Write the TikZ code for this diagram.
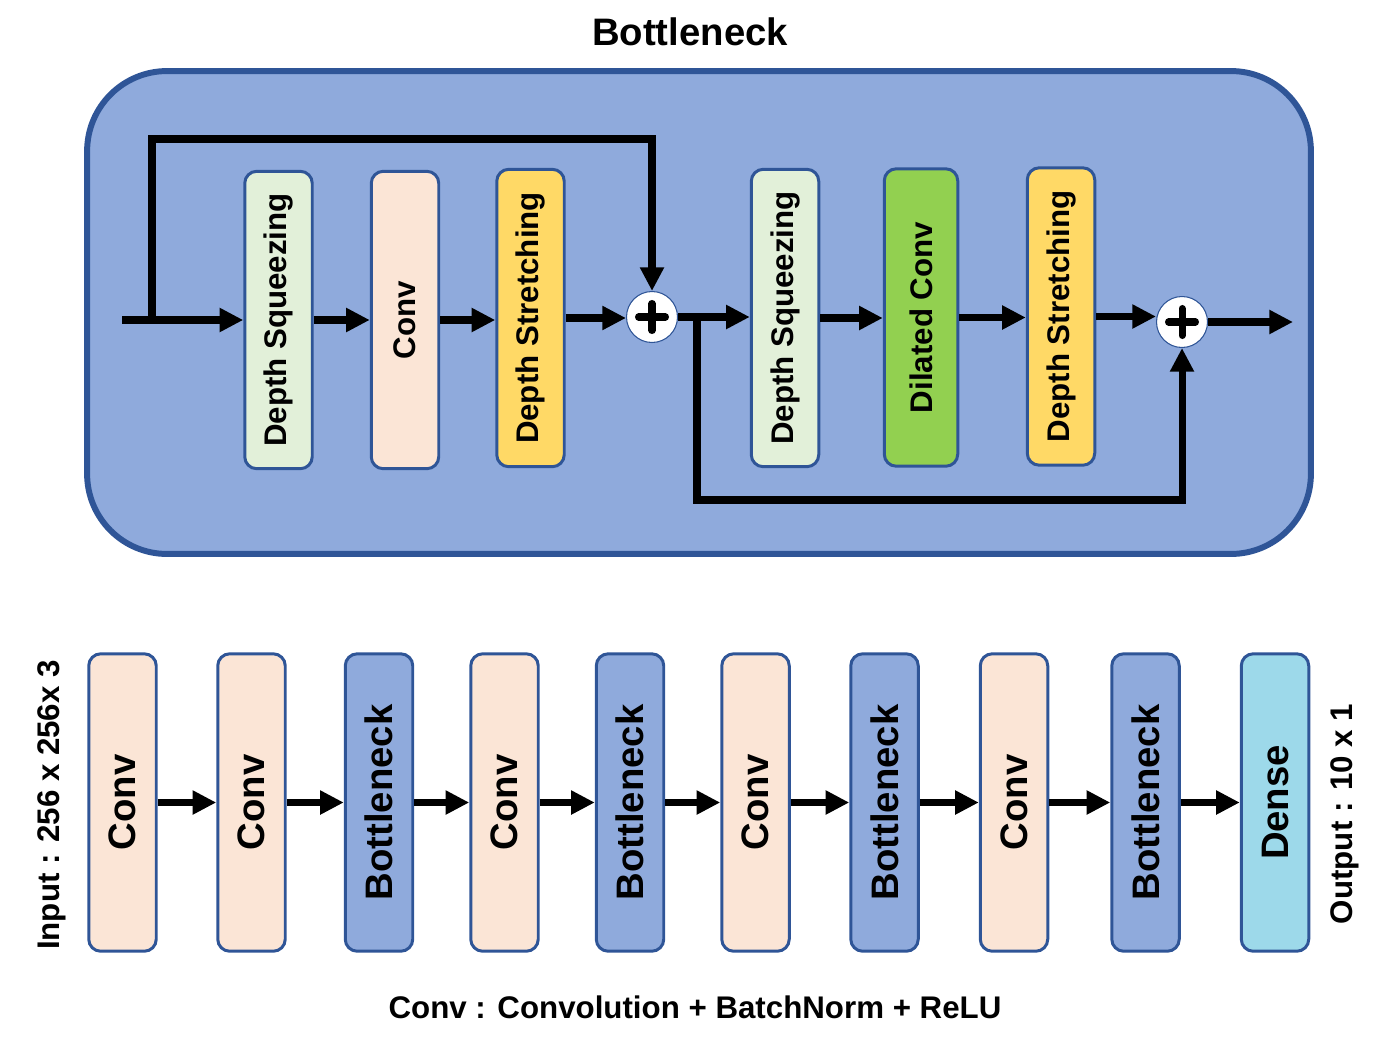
\documentclass[tikz,border=0pt]{standalone}
\usepackage{fontspec}
\setmainfont{Liberation Sans}
\usepackage{graphicx}
\usetikzlibrary{arrows.meta,calc}
\definecolor{bnfill}{HTML}{8FAADC}
\definecolor{bnline}{HTML}{2F5597}
\definecolor{sqz}{HTML}{E2F0D9}
\definecolor{convc}{HTML}{FBE5D6}
\definecolor{strc}{HTML}{FFD966}
\definecolor{dilc}{HTML}{92D050}
\definecolor{densec}{HTML}{9DD9EA}
\begin{document}
\begin{tikzpicture}[x=0.02cm,y=-0.02cm,
  blk/.style={draw=bnline, line width=1.7pt, rounded corners=0.24cm, minimum width=1.35cm, minimum height=5.95cm, inner sep=0pt, font=\bfseries\fontsize{17.8}{21}\selectfont},
  bblk/.style={blk, font=\bfseries\fontsize{21.8}{26}\selectfont},
  flow/.style={line width=4pt, -{Triangle[length=13.5pt,width=13pt]}},
  sumnode/.style={circle, draw=bnline, line width=0.6pt, fill=white, minimum size=1.02cm, inner sep=0pt},
  plusbar/.style={line width=4pt, line cap=round},
  lbl/.style={font=\bfseries\fontsize{17.8}{21}\selectfont, inner sep=0pt}]
\useasboundingbox (0,0) rectangle (1395,1041);

% title
\node[font=\bfseries\fontsize{21.8}{26}\selectfont, inner sep=0pt] (title) at (690,32) {Bottleneck};

% bottleneck container
\node[draw=bnline, line width=3.4pt, fill=bnfill, rounded corners=1.6cm,
      minimum width=24.48cm, minimum height=9.66cm, inner sep=0pt] (frame) at (699,312.5) {};

% top row blocks
\node[blk, fill=sqz]   (d1) at (278.5,320) {\rotatebox{90}{Depth Squeezing}};
\node[blk, fill=convc] (c1) at (405,320)   {\rotatebox{90}{Conv}};
\node[blk, fill=strc]  (s1) at (530.5,318) {\rotatebox{90}{Depth Stretching}};
\node[blk, fill=sqz]   (d2) at (785,318)   {\rotatebox{90}{Depth Squeezing}};
\node[blk, fill=dilc, minimum width=1.47cm] (dc) at (921,317.5) {\rotatebox{90}{Dilated Conv}};
\node[blk, fill=strc]  (s2) at (1061,316.5) {\rotatebox{90}{Depth Stretching}};

% sum nodes
\node[sumnode] (p1) at (652,317) {};
\node[sumnode] (p2) at (1182,322) {};
\foreach \p in {p1,p2}{
  \draw[plusbar] ([xshift=-0.27cm]\p.center) -- ([xshift=0.27cm]\p.center);
  \draw[plusbar] ([yshift=-0.27cm]\p.center) -- ([yshift=0.27cm]\p.center);
}

% top connectors
\coordinate (in) at (122,320);
\coordinate (br1) at (152,320);
\coordinate (br2) at (697,317);
\coordinate (out) at (1293,322);
\draw[flow] (in) -- (d1.west);
\draw[flow] (br1) -- ++(0,-181) -| (p1.north);
\draw[flow] (d1.east) -- (c1.west);
\draw[flow] (c1.east) -- (c1.east -| s1.west);
\draw[flow] (s1.east) -- (s1.east -| p1.west);
\draw[flow] (p1.east) -- (p1.east -| d2.west);
\draw[flow] (br2) -- ++(0,183) -| (p2.south);
\draw[flow] (d2.east) -- (d2.east -| dc.west);
\draw[flow] (dc.east) -- (dc.east -| s2.west);
\draw[flow] (s2.east) -- (s2.east -| p2.west);
\draw[flow] (p2.east) -- (out);

% bottom row
\node[bblk, fill=convc]  (b1) at (122.5,802.5)  {\rotatebox{90}{Conv}};
\node[bblk, fill=convc]  (b2) at (251.5,802.5)  {\rotatebox{90}{Conv}};
\node[bblk, fill=bnfill] (b3) at (379,802.5)    {\rotatebox{90}{Bottleneck}};
\node[bblk, fill=convc]  (b4) at (504.5,802.5)  {\rotatebox{90}{Conv}};
\node[bblk, fill=bnfill] (b5) at (630,802.5)    {\rotatebox{90}{Bottleneck}};
\node[bblk, fill=convc]  (b6) at (755.5,802.5)  {\rotatebox{90}{Conv}};
\node[bblk, fill=bnfill] (b7) at (884.5,802.5)  {\rotatebox{90}{Bottleneck}};
\node[bblk, fill=convc]  (b8) at (1014,802.5)   {\rotatebox{90}{Conv}};
\node[bblk, fill=bnfill] (b9) at (1145.5,802.5) {\rotatebox{90}{Bottleneck}};
\node[bblk, fill=densec] (b10) at (1275,802.5)  {\rotatebox{90}{Dense}};
\foreach \a/\b in {b1/b2,b2/b3,b3/b4,b4/b5,b5/b6,b6/b7,b7/b8,b8/b9,b9/b10}{
  \draw[flow, line width=4.5pt] (\a.east) -- (\b.west);
}

% side and bottom labels
\node[lbl, rotate=90] (inlbl) at (52,805) {Input : 256 x 256x 3};
\node[lbl, rotate=90] (outlbl) at (1345,814) {Output : 10 x 1};
\node[lbl] (legend) at (695,1007) {Conv : Convolution + BatchNorm + ReLU};
\end{tikzpicture}
\end{document}
